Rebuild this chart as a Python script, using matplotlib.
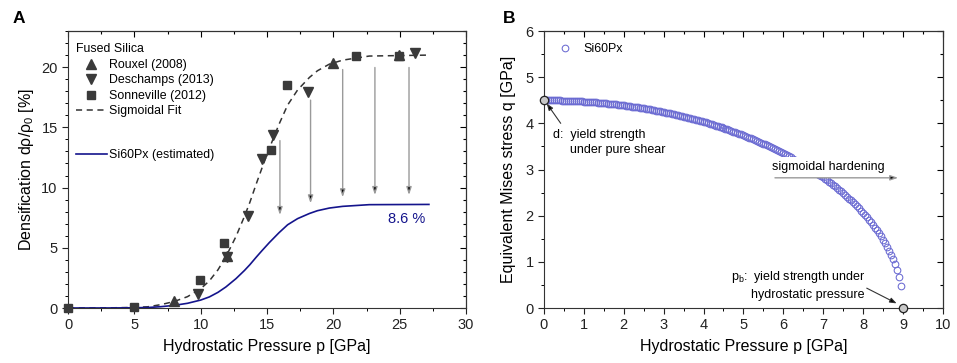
import numpy as np
import matplotlib
matplotlib.use("Agg")
import matplotlib.pyplot as plt
from matplotlib.ticker import MultipleLocator
from matplotlib.lines import Line2D

plt.rcParams['font.family'] = ['Liberation Sans', 'DejaVu Sans']
plt.rcParams['mathtext.fontset'] = 'custom'
plt.rcParams['mathtext.rm'] = 'Liberation Sans'
plt.rcParams['mathtext.it'] = 'Liberation Sans:italic'

# ---- Panel A data (fused silica densification) ----
rouxel_p = [8.0, 12.0, 20.0, 24.95]
rouxel_d = [0.6, 4.3, 20.35, 21.0]
deschamps_p = [9.8, 12.0, 13.6, 14.6, 15.45, 18.1, 26.15]
deschamps_d = [1.2, 4.2, 7.6, 12.4, 14.4, 17.9, 21.15]
sonneville_p = [0.0, 5.0, 9.95, 11.75, 15.3, 16.5, 21.7, 24.95]
sonneville_d = [0.0, 0.05, 2.3, 5.4, 13.1, 18.5, 20.9, 20.9]

fit_p = [0, 3, 5, 6, 7, 8, 9, 10, 10.65, 11.3, 11.9, 12.66, 13.3, 13.7, 14.2,
         14.6, 15.17, 15.9, 16.55, 17.3, 18.2, 18.8, 19.7, 20.7, 22.7, 27.2]
fit_d = [0, 0.01, 0.05, 0.1, 0.28, 0.54, 0.94, 1.6, 2.25, 3.17, 4.26, 5.94, 7.62,
         8.76, 10.35, 11.57, 13.25, 15.25, 16.85, 18.1, 19.15, 19.7, 20.25, 20.58,
         20.92, 21.0]

si60_p = fit_p
si60_d = [0, 0.004, 0.02, 0.04, 0.11, 0.22, 0.39, 0.66, 0.92, 1.30, 1.75, 2.44,
          3.12, 3.59, 4.24, 4.74, 5.43, 6.25, 6.91, 7.42, 7.85, 8.08, 8.30, 8.44,
          8.58, 8.6]

arrow_p = [15.97, 18.28, 20.7, 23.13, 25.7]
arrow_top = [13.9, 17.26, 19.8, 19.97, 19.97]
arrow_bot = [7.72, 8.69, 9.19, 9.38, 9.38]

# ---- Panel B data (yield surface Si60Px) ----
yield_p = [0.00, 0.05, 0.10, 0.15, 0.20, 0.25, 0.30, 0.35, 0.40, 0.45, 0.50, 0.55,
           0.60, 0.65, 0.70, 0.75, 0.80, 0.85, 0.90, 0.95, 1.00, 1.05, 1.10, 1.15,
           1.20, 1.25, 1.30, 1.35, 1.40, 1.45, 1.50, 1.55, 1.60, 1.65, 1.70, 1.75,
           1.80, 1.85, 1.90, 1.95, 2.00, 2.05, 2.10, 2.15, 2.20, 2.25, 2.30, 2.35,
           2.40, 2.45, 2.50, 2.55, 2.60, 2.65, 2.70, 2.75, 2.80, 2.85, 2.90, 2.95,
           3.00, 3.05, 3.10, 3.15, 3.20, 3.25, 3.30, 3.35, 3.40, 3.45, 3.50, 3.55,
           3.60, 3.65, 3.70, 3.75, 3.80, 3.85, 3.90, 3.95, 4.00, 4.05, 4.10, 4.15,
           4.20, 4.25, 4.30, 4.35, 4.40, 4.45, 4.50, 4.55, 4.60, 4.65, 4.70, 4.75,
           4.80, 4.85, 4.90, 4.95, 5.00, 5.05, 5.10, 5.15, 5.20, 5.25, 5.30, 5.35,
           5.40, 5.45, 5.50, 5.55, 5.60, 5.65, 5.70, 5.75, 5.80, 5.85, 5.90, 5.95,
           6.00, 6.05, 6.10, 6.15, 6.20, 6.25, 6.30, 6.35, 6.40, 6.45, 6.50, 6.55,
           6.60, 6.65, 6.70, 6.75, 6.80, 6.85, 6.90, 6.95, 7.00, 7.05, 7.10, 7.15,
           7.20, 7.25, 7.30, 7.35, 7.40, 7.45, 7.50, 7.55, 7.60, 7.65, 7.70, 7.75,
           7.80, 7.85, 7.90, 7.95, 8.00, 8.05, 8.10, 8.15, 8.20, 8.25, 8.30, 8.35,
           8.40, 8.45, 8.50, 8.55, 8.60, 8.65, 8.70, 8.75, 8.80, 8.85, 8.90, 8.95]
yield_q = [4.500, 4.500, 4.500, 4.499, 4.499, 4.498, 4.497, 4.497, 4.496, 4.494,
           4.493, 4.492, 4.490, 4.488, 4.486, 4.484, 4.482, 4.480, 4.477, 4.474,
           4.472, 4.469, 4.466, 4.463, 4.460, 4.457, 4.453, 4.449, 4.445, 4.441,
           4.437, 4.433, 4.428, 4.424, 4.419, 4.414, 4.409, 4.404, 4.399, 4.394,
           4.388, 4.382, 4.376, 4.370, 4.364, 4.358, 4.351, 4.344, 4.337, 4.330,
           4.323, 4.316, 4.308, 4.301, 4.293, 4.285, 4.277, 4.269, 4.260, 4.252,
           4.243, 4.234, 4.225, 4.216, 4.206, 4.197, 4.187, 4.177, 4.167, 4.157,
           4.146, 4.135, 4.124, 4.113, 4.102, 4.091, 4.079, 4.068, 4.056, 4.044,
           4.031, 4.019, 4.006, 3.993, 3.980, 3.967, 3.953, 3.940, 3.926, 3.912,
           3.897, 3.883, 3.868, 3.853, 3.838, 3.823, 3.807, 3.791, 3.775, 3.759,
           3.742, 3.725, 3.708, 3.691, 3.673, 3.655, 3.637, 3.619, 3.600, 3.581,
           3.562, 3.543, 3.523, 3.503, 3.482, 3.462, 3.441, 3.420, 3.398, 3.376,
           3.354, 3.332, 3.309, 3.286, 3.262, 3.238, 3.214, 3.189, 3.164, 3.138,
           3.112, 3.086, 3.059, 3.032, 3.005, 2.977, 2.948, 2.919, 2.889, 2.859,
           2.828, 2.797, 2.765, 2.733, 2.700, 2.666, 2.632, 2.597, 2.561, 2.524,
           2.487, 2.449, 2.410, 2.371, 2.330, 2.288, 2.245, 2.201, 2.156, 2.109,
           2.062, 2.012, 1.962, 1.909, 1.855, 1.798, 1.740, 1.679, 1.616, 1.549,
           1.479, 1.405, 1.327, 1.243, 1.152, 1.053, 0.943, 0.818, 0.669, 0.474]
special_p = [0.0, 9.0]
special_q = [4.5, 0.0]

DARK = '#3a3a3a'
NAVY = '#14148c'
CIRC = '#6a6ad2'


def style_axes(ax, xmaj, xmin, ymaj, ymin):
    ax.xaxis.set_major_locator(MultipleLocator(xmaj))
    ax.xaxis.set_minor_locator(MultipleLocator(xmin))
    ax.yaxis.set_major_locator(MultipleLocator(ymaj))
    ax.yaxis.set_minor_locator(MultipleLocator(ymin))
    ax.tick_params(which='major', direction='out', length=4, width=0.8,
                   labelsize=10.5, colors='#222222')
    ax.tick_params(which='minor', direction='out', length=2.2, width=0.7)
    for s in ax.spines.values():
        s.set_linewidth(0.8)
        s.set_color('#333333')
    top = ax.secondary_xaxis('top')
    top.xaxis.set_major_locator(MultipleLocator(xmaj))
    top.xaxis.set_minor_locator(MultipleLocator(xmin))
    top.tick_params(which='both', direction='in', labeltop=False, width=0.8)
    top.tick_params(which='major', length=4)
    top.tick_params(which='minor', length=2.2)
    right = ax.secondary_yaxis('right')
    right.yaxis.set_major_locator(MultipleLocator(ymaj))
    right.yaxis.set_minor_locator(MultipleLocator(ymin))
    right.tick_params(which='both', direction='in', labelright=False, width=0.8)
    right.tick_params(which='major', length=4)
    right.tick_params(which='minor', length=2.2)


fig = plt.figure(figsize=(9.57, 3.63), dpi=100)
axA = fig.add_axes([0.0711, 0.1515, 0.4159, 0.7631])
axB = fig.add_axes([0.5684, 0.1515, 0.4169, 0.7631])

# ---- Panel A ----
axA.plot(fit_p, fit_d, ls=(0, (4, 3)), color='#333333', lw=1.1, zorder=2)
axA.plot(si60_p, si60_d, color=NAVY, lw=1.2, zorder=2)
axA.plot(rouxel_p, rouxel_d, '^', color=DARK, ms=6.8, ls='none', zorder=3)
axA.plot(deschamps_p, deschamps_d, 'v', color=DARK, ms=6.8, ls='none', zorder=3)
axA.plot(sonneville_p, sonneville_d, 's', color=DARK, ms=5.2, ls='none', zorder=3,
         clip_on=False)
for x, y0, y1 in zip(arrow_p, arrow_top, arrow_bot):
    axA.annotate('', xy=(x, y1), xytext=(x, y0),
                 arrowprops=dict(arrowstyle='-|>,head_length=0.45,head_width=0.15',
                                 ec='#9a9a9a', fc='black', lw=1.0,
                                 shrinkA=0, shrinkB=0))
axA.text(25.5, 7.4, '8.6 %', color=NAVY, fontsize=10.5, ha='center', va='center')
axA.set_xlim(0, 30)
axA.set_ylim(0, 23)
style_axes(axA, 5, 2.5, 5, 1)
axA.set_xlabel('Hydrostatic Pressure p [GPa]', fontsize=11.5, labelpad=5)
axA.set_ylabel(r'Densification d$\mathregular{\rho/\rho_0}$ [%]', fontsize=11.5,
               labelpad=4)

h1 = [Line2D([], [], marker='^', color=DARK, ls='none', ms=6.8),
      Line2D([], [], marker='v', color=DARK, ls='none', ms=6.8),
      Line2D([], [], marker='s', color=DARK, ls='none', ms=5.2),
      Line2D([], [], ls=(0, (4, 3)), color='#333333', lw=1.1)]
leg1 = axA.legend(h1, ['Rouxel (2008)', 'Deschamps (2013)', 'Sonneville (2012)',
                       'Sigmoidal Fit'],
                  title='Fused Silica', alignment='left', loc='upper left',
                  bbox_to_anchor=(0.02, 0.955), frameon=False, fontsize=8.9,
                  title_fontsize=8.9, handlelength=2.5, handletextpad=0.15,
                  labelspacing=0.28, borderpad=0, borderaxespad=0)
axA.add_artist(leg1)
axA.legend([Line2D([], [], color=NAVY, lw=1.2)], ['Si60Px (estimated)'],
           loc='upper left', bbox_to_anchor=(0.02, 0.573), frameon=False,
           fontsize=8.9, handlelength=2.5, handletextpad=0.15, borderpad=0,
           borderaxespad=0)

# ---- Panel B ----
axB.plot(yield_p, yield_q, 'o', mfc='none', mec=CIRC, ms=4.8, mew=0.75,
         ls='none', zorder=2, label='Si60Px')
axB.plot(special_p, special_q, 'o', mfc='#c8c8c8', mec='#222222', ms=6, mew=0.9,
         ls='none', zorder=6, clip_on=False)
axB.set_xlim(0, 10)
axB.set_ylim(0, 6)
style_axes(axB, 1, 0.5, 1, 0.5)
axB.set_xlabel('Hydrostatic Pressure p [GPa]', fontsize=11.5, labelpad=5)
axB.set_ylabel('Equivalent Mises stress q [GPa]', fontsize=11.5, labelpad=7)
axB.legend(loc='upper left', bbox_to_anchor=(0.035, 0.955), frameon=False,
           fontsize=8.9, handlelength=1.2, handletextpad=0.9, borderpad=0,
           borderaxespad=0)

axB.annotate('', xy=(0.07, 4.43), xytext=(0.42, 4.0),
             arrowprops=dict(arrowstyle='-|>,head_length=0.4,head_width=0.15',
                             ec='#333333', fc='black', lw=0.8, shrinkA=0, shrinkB=0))
axB.text(0.22, 3.75, 'd:  yield strength', fontsize=9, va='center', ha='left')
axB.text(0.65, 3.42, 'under pure shear', fontsize=9, va='center', ha='left')

axB.text(7.12, 3.05, 'sigmoidal hardening', fontsize=9, va='center', ha='center',
         zorder=4, bbox=dict(boxstyle='square,pad=0.35', fc='white', ec='none'))
axB.annotate('', xy=(8.88, 2.82), xytext=(5.79, 2.82), zorder=5,
             arrowprops=dict(arrowstyle='-|>,head_length=0.45,head_width=0.15',
                             ec='#9a9a9a', fc='black', lw=1.0, shrinkA=0, shrinkB=0))

axB.text(4.68, 0.67, r'p$_\mathregular{b}$:  yield strength under', fontsize=9,
         va='center', ha='left')
axB.text(5.2, 0.28, 'hydrostatic pressure', fontsize=9, va='center', ha='left')
axB.annotate('', xy=(8.84, 0.1), xytext=(8.09, 0.43),
             arrowprops=dict(arrowstyle='-|>,head_length=0.4,head_width=0.15',
                             ec='#333333', fc='black', lw=0.8, shrinkA=0, shrinkB=0))

fig.text(0.0136, 0.95, 'A', fontsize=12.5, fontweight='bold', va='center')
fig.text(0.5256, 0.95, 'B', fontsize=12.5, fontweight='bold', va='center')

fig.savefig('out.png', dpi=100)
